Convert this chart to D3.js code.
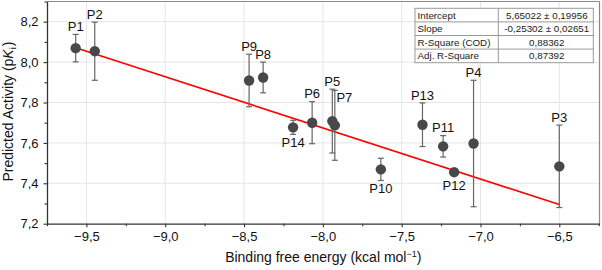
<!DOCTYPE html>
<html><head><meta charset="utf-8">
<script src="https://cdn.jsdelivr.net/npm/d3@7"></script>
<style>
html,body{margin:0;padding:0;background:#fff;}
svg{display:block;font-family:"Liberation Sans",Arial,sans-serif;}
</style></head>
<body>
<svg id="c" width="602" height="270"></svg>
<script>
// ---- data ----
const labels = ["P1","P2","P3","P4","P5","P6","P7","P8","P9","P10","P11","P12","P13","P14"];
const bindingEnergy = [-9.568,-9.447,-6.50,-7.044,-7.94,-8.068,-7.924,-8.379,-8.468,-7.632,-7.237,-7.167,-7.368,-8.189];
const predictedPKi = [8.069,8.054,7.484,7.597,7.708,7.700,7.687,7.924,7.909,7.469,7.583,7.455,7.690,7.677];
const errorSD = [0.068,0.144,0.204,0.313,0.158,0.104,0.173,0.076,0.130,0.055,0.053,0.015,0.108,0.035];
const labelPlacement = ["above","above","above","above","above","above","aboveRight","above","above","below","above","below","above","below"];
const xTicks = [-9.5,-9.0,-8.5,-8.0,-7.5,-7.0,-6.5];
const yTicks = [7.2,7.4,7.6,7.8,8.0,8.2];
const fitIntercept = 5.65022, fitSlope = -0.25302;
const fitTable = [
  ["Intercept","5,65022 ± 0,19956"],
  ["Slope","-0,25302 ± 0,02651"],
  ["R-Square (COD)","0,88362"],
  ["Adj. R-Square","0,87392"]
];

const fmt = v => d3.format(".1f")(v).replace(".", ",").replace("-", "\u2212");

const svg = d3.select("#c");
const L = 47, R = 599.5, T = 1.5, B = 223.7;
const x = d3.scaleLinear().domain([-9.75, -6.245]).range([L, R]);
const y = d3.scaleLinear().domain([7.2, 8.3]).range([B, T]);

// grid
const grid = svg.append("g");
grid.selectAll(".gx").data(xTicks).join("line")
  .attr("x1", d => x(d)).attr("x2", d => x(d)).attr("y1", T).attr("y2", B)
  .attr("stroke", "#e6e6e6").attr("stroke-width", 1);
grid.selectAll(".gy").data(yTicks.slice(1)).join("line")
  .attr("x1", L).attr("x2", R).attr("y1", d => y(d)).attr("y2", d => y(d))
  .attr("stroke", "#e6e6e6").attr("stroke-width", 1);

// frame top/right
svg.append("line").attr("x1", L).attr("x2", R).attr("y1", T).attr("y2", T).attr("stroke", "#8a8a8a").attr("stroke-width", 1.2);
svg.append("line").attr("x1", R).attr("x2", R).attr("y1", T).attr("y2", B).attr("stroke", "#8a8a8a").attr("stroke-width", 1.2);

// axes
const minorX = d3.range(-9.75, -6.2, 0.25).filter(v => !xTicks.some(t => Math.abs(t - v) < 1e-6));
const minorY = d3.range(7.3, 8.3, 0.2);
const xAxis = svg.append("g").attr("transform", `translate(0,${B})`)
  .call(d3.axisBottom(x).tickValues(xTicks).tickFormat(fmt).tickSize(3.5).tickSizeOuter(0));
svg.append("g").attr("transform", `translate(0,${B})`)
  .call(d3.axisBottom(x).tickValues(minorX).tickFormat("").tickSize(2.5).tickSizeOuter(0))
  .select(".domain").remove();
const yAxis = svg.append("g").attr("transform", `translate(${L},0)`)
  .call(d3.axisLeft(y).tickValues(yTicks).tickFormat(fmt).tickSize(3.5).tickSizeOuter(0));
svg.append("g").attr("transform", `translate(${L},0)`)
  .call(d3.axisLeft(y).tickValues(minorY).tickFormat("").tickSize(2.5).tickSizeOuter(0))
  .select(".domain").remove();
svg.selectAll(".domain").attr("stroke", "#333").attr("stroke-width", 1.3);
svg.selectAll(".tick line").attr("stroke", "#333").attr("stroke-width", 1.1);
xAxis.selectAll("text").attr("font-size", 13).attr("fill", "#111").attr("dy", "0.87em");
yAxis.selectAll("text").attr("font-size", 13).attr("fill", "#111").attr("dx", "-0.15em");
svg.selectAll(".tick text").attr("font-family", null);

// axis titles
const xt = svg.append("text").attr("x", (L + R) / 2).attr("y", 262).attr("text-anchor", "middle")
  .attr("font-size", 14).attr("fill", "#111");
xt.append("tspan").text("Binding free energy (kcal mol");
xt.append("tspan").text("\u22121").attr("font-size", 9).attr("dy", -5.5);
xt.append("tspan").text(")").attr("dy", 5.5);

const yt = svg.append("text").attr("transform", `translate(13,${(T + B) / 2 - 1}) rotate(-90)`)
  .attr("text-anchor", "middle").attr("font-size", 14).attr("fill", "#111");
yt.append("tspan").text("Predicted Activity (p");
yt.append("tspan").text("K").attr("font-style", "italic");
yt.append("tspan").text("i").attr("font-size", 9).attr("dy", 3);
yt.append("tspan").text(")").attr("dy", -3).attr("dx", 1);

// regression line
const xs = d3.extent(bindingEnergy);
svg.append("line")
  .attr("x1", x(xs[0])).attr("y1", y(fitIntercept + fitSlope * xs[0]))
  .attr("x2", x(xs[1])).attr("y2", y(fitIntercept + fitSlope * xs[1]))
  .attr("stroke", "#ff0000").attr("stroke-width", 1.6);

// points
const pts = labels.map((l, i) => ({l, x: bindingEnergy[i], y: predictedPKi[i], e: errorSD[i], p: labelPlacement[i]}));
const eb = svg.append("g").attr("stroke", "#666").attr("stroke-width", 1.2);
pts.forEach(d => {
  const cx = x(d.x);
  eb.append("line").attr("x1", cx).attr("x2", cx).attr("y1", y(d.y + d.e)).attr("y2", y(d.y - d.e));
  eb.append("line").attr("x1", cx - 3).attr("x2", cx + 3).attr("y1", y(d.y + d.e)).attr("y2", y(d.y + d.e));
  eb.append("line").attr("x1", cx - 3).attr("x2", cx + 3).attr("y1", y(d.y - d.e)).attr("y2", y(d.y - d.e));
});
svg.append("g").selectAll("circle").data(pts).join("circle")
  .attr("cx", d => x(d.x)).attr("cy", d => y(d.y)).attr("r", 5.2)
  .attr("fill", "#484848");

// labels
svg.append("g").selectAll("text").data(pts).join("text")
  .attr("font-size", 13).attr("fill", "#111").attr("text-anchor", "middle")
  .attr("x", d => x(d.x) + (d.p === "aboveRight" ? 9.5 : 0))
  .attr("y", d => {
    if (d.p === "above") return y(d.y + d.e) - 3.3;
    if (d.p === "aboveRight") return y(d.y) - 23;
    return Math.max(y(d.y - d.e), y(d.y) + 5.2) + 13;
  })
  .text(d => d.l);

// fit table
const tx0 = 415, tx1 = 593.3, tcol = 498.3, ty0 = 8.3, rh = 13.6;
const tg = svg.append("g");
tg.append("rect").attr("x", tx0).attr("y", ty0).attr("width", tx1 - tx0).attr("height", rh * fitTable.length)
  .attr("fill", "#fff").attr("stroke", "#9a9a9a").attr("stroke-width", 1);
fitTable.forEach((row, i) => {
  if (i > 0) tg.append("line").attr("x1", tx0).attr("x2", tx1).attr("y1", ty0 + rh * i).attr("y2", ty0 + rh * i)
    .attr("stroke", "#9a9a9a").attr("stroke-width", 1);
  tg.append("text").attr("x", tx0 + 2.5).attr("y", ty0 + rh * (i + 1) - 3.3).attr("font-size", 9.8).attr("fill", "#222").text(row[0]);
  tg.append("text").attr("x", (tcol + tx1) / 2 + 1).attr("y", ty0 + rh * (i + 1) - 3.3).attr("text-anchor", "middle")
    .attr("font-size", 9.8).attr("fill", "#222").text(row[1]);
});
tg.append("line").attr("x1", tcol).attr("x2", tcol).attr("y1", ty0).attr("y2", ty0 + rh * fitTable.length)
  .attr("stroke", "#9a9a9a").attr("stroke-width", 1);
</script>
</body></html>
